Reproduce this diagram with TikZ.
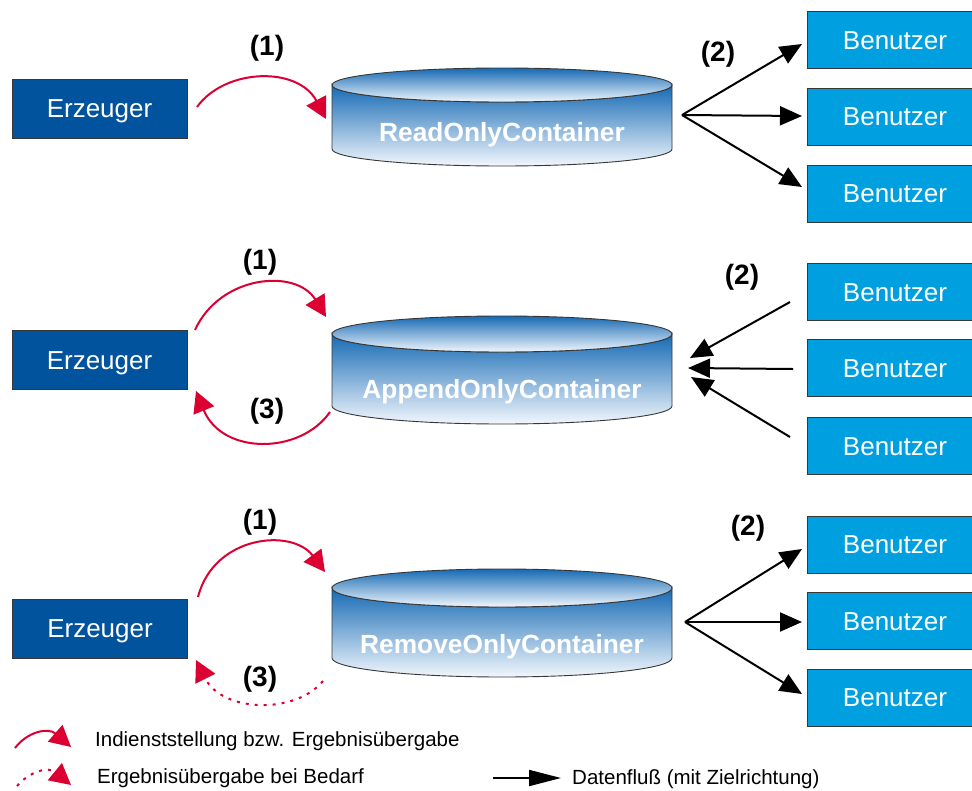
\documentclass[tikz,border=0pt]{standalone}
\usepackage{fontspec}
\setmainfont{Liberation Sans}
\usetikzlibrary{arrows.meta}
\definecolor{erzblue}{RGB}{0,83,156}
\definecolor{benblue}{RGB}{0,160,224}
\definecolor{arrred}{RGB}{220,0,50}
\definecolor{cyltop}{RGB}{22,106,180}
\definecolor{cylbot}{RGB}{242,247,253}
\definecolor{boxline}{RGB}{55,55,55}
\newcommand\mycylinder[3]{%
  \shade[top color=cyltop, bottom color=cylbot, draw=boxline, line width=0.9pt]
    (332,#1) -- (332,#2) arc[start angle=180, end angle=360, x radius=170pt, y radius=#3pt]
    -- (672,#1) arc[start angle=0, end angle=-180, x radius=170pt, y radius=#3pt] -- cycle;
  \shade[top color=cyltop, bottom color=cylbot, draw=boxline, line width=0.9pt]
    (502,#1) ellipse[x radius=170pt, y radius=#3pt];
}
\begin{document}
\begin{tikzpicture}[x=1pt,y=-1pt,
  erz/.style={draw=boxline, line width=0.8pt, fill=erzblue, minimum width=175pt,
    minimum height=59pt, inner sep=0pt, text=white, text height=18.5pt, text depth=0pt,
    font=\fontsize{26}{30}\selectfont},
  ben/.style={draw=boxline, line width=0.8pt, fill=benblue, minimum width=176pt,
    minimum height=57pt, inner sep=0pt, text=white, text height=18.5pt, text depth=0pt,
    font=\fontsize{26}{30}\selectfont},
  ctext/.style={text=white, inner sep=0pt, text height=18.8pt, text depth=0pt,
    font=\bfseries\fontsize{26.3}{30}\selectfont},
  num/.style={inner sep=0pt, font=\bfseries\fontsize{28}{32}\selectfont},
  legtext/.style={anchor=base west, inner sep=0pt, font=\fontsize{20.5}{24}\selectfont},
  redarr/.style={draw=arrred, line width=2pt, -{Triangle[length=21pt,width=22pt]}},
  reddot/.style={redarr, dash pattern=on 3pt off 6pt},
  flow/.style={draw=black, line width=2pt, -{Triangle[length=22pt,width=19pt]}},
  legflow/.style={draw=black, line width=2pt, -{Triangle[length=32pt,width=16pt]}}
]
\useasboundingbox (0,0) rectangle (972,790);
\fill[white] (0,0) rectangle (972,790);
\clip (0,0) rectangle (972,790);

% ---------- cylinders ----------
\mycylinder{85}{149}{17}
\mycylinder{334}{406}{18}
\mycylinder{588}{658}{19}
\node[ctext] (c1) at (502,132.5) {ReadOnlyContainer};
\node[ctext] (c2) at (502,389) {AppendOnlyContainer};
\node[ctext] (c3) at (502,644) {RemoveOnlyContainer};

% ---------- Erzeuger ----------
\node[erz] (e1) at (99.5,108.5) {Erzeuger};
\node[erz] (e2) at (99.5,360) {Erzeuger};
\node[erz] (e3) at (100,628.5) {Erzeuger};

% ---------- Benutzer ----------
\node[ben] (b11) at (895,40) {Benutzer};
\node[ben] (b12) at (895,116.5) {Benutzer};
\node[ben] (b13) at (895,193.5) {Benutzer};
\node[ben] (b21) at (895,292) {Benutzer};
\node[ben] (b22) at (895,368) {Benutzer};
\node[ben] (b23) at (895,446) {Benutzer};
\node[ben] (b31) at (895,544.5) {Benutzer};
\node[ben] (b32) at (895,621) {Benutzer};
\node[ben] (b33) at (895,697.5) {Benutzer};

% ---------- coordinates ----------
\coordinate (r1s) at (197,107);  \coordinate (r1e) at (326,119);
\coordinate (r2s) at (195,330);  \coordinate (r2e) at (326,317);
\coordinate (r2bs) at (330,412); \coordinate (r2be) at (196,391);
\coordinate (r3s) at (198,597);  \coordinate (r3e) at (325,572);
\coordinate (r3bs) at (323,681); \coordinate (r3be) at (196,660);

\coordinate (o1) at (682,115);
\coordinate (t11) at (802,44); \coordinate (t12) at (802,116); \coordinate (t13) at (802,187);
\coordinate (u21) at (790,302); \coordinate (u22) at (793,369); \coordinate (u23) at (790,437);
\coordinate (v21) at (690,358); \coordinate (v22) at (688,368); \coordinate (v23) at (691,377);
\coordinate (o3) at (685,622);
\coordinate (t31) at (802,549); \coordinate (t32) at (802,622); \coordinate (t33) at (802,694);

% ---------- red arcs ----------
\draw[redarr] (r1s) .. controls (225,68) and (298,66) .. (r1e);
\draw[redarr] (r2s) .. controls (220,275) and (296,268) .. (r2e);
\draw[redarr] (r2bs) .. controls (300,455) and (222,455) .. (r2be);
\draw[redarr] (r3s) .. controls (214,535) and (292,528) .. (r3e);
\draw[reddot] (r3bs) .. controls (295,715) and (222,712) .. (r3be);

% ---------- data flow ----------
\draw[flow] (o1) -- (t11);
\draw[flow] (o1) -- (t12);
\draw[flow] (o1) -- (t13);
\draw[flow] (u21) -- (v21);
\draw[flow] (u22) -- (v22);
\draw[flow] (u23) -- (v23);
\draw[flow] (o3) -- (t31);
\draw[flow] (o3) -- (t32);
\draw[flow] (o3) -- (t33);

% ---------- labels ----------
\node[num] (n11) at (267,48) {(1)};
\node[num] (n12) at (718,54) {(2)};
\node[num] (n21) at (260,262) {(1)};
\node[num] (n23) at (267,411) {(3)};
\node[num] (n22) at (742,277) {(2)};
\node[num] (n31) at (260,522) {(1)};
\node[num] (n33) at (260,679) {(3)};
\node[num] (n32) at (748,528) {(2)};

% ---------- legend ----------
\coordinate (l1s) at (15,748); \coordinate (l1e) at (71,747);
\coordinate (l2s) at (17,786); \coordinate (l2e) at (71,785);
\coordinate (l3s) at (493,778); \coordinate (l3e) at (561,778);
\draw[redarr] (l1s) .. controls (27,732) and (48,727) .. (l1e);
\draw[reddot] (l2s) .. controls (29,772) and (48,766) .. (l2e);
\draw[legflow] (l3s) -- (l3e);
\node[legtext] (lt1) at (95,746) {Indienststellung bzw. Ergebnisübergabe};
\node[legtext] (lt2) at (97,783) {Ergebnisübergabe bei Bedarf};
\node[legtext] (lt3) at (572,784) {Datenfluß (mit Zielrichtung)};
\end{tikzpicture}
\end{document}
